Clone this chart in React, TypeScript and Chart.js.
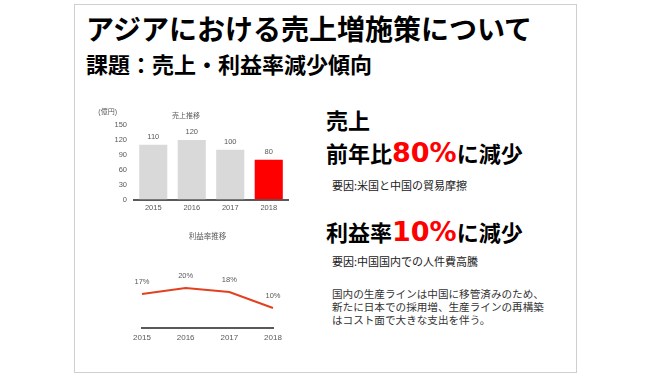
import React, { useEffect, useRef } from 'react';
import { Chart, registerables } from 'chart.js';

Chart.register(...registerables);

// ---- data ----
const years = ['2015', '2016', '2017', '2018'];
const salesValues = [110, 120, 100, 80];
const salesColors = ['#d9d9d9', '#d9d9d9', '#d9d9d9', '#ff0000'];
const salesAxisMax = 150;
const salesTickStep = 30;
const profitRates = [17, 20, 18, 10];
const profitAxisMax = 25;
const salesTitle = '売上推移';
const salesUnit = '(億円)';
const profitTitle = '利益率推移';
const noteLines = [
  '国内の生産ラインは中国に移管済みのため、',
  '新たに日本での採用増、生産ラインの再構築',
  'はコスト面で大きな支出を伴う。',
];

const chartFont = "'Liberation Sans', 'Noto Sans CJK JP', sans-serif";
const chartText = '#595959';
const axisColor = '#595959';

function valueLabelPlugin(fmt: (v: number) => string, offset: number, size: number) {
  return {
    id: 'valueLabels',
    afterDatasetsDraw(chart: any) {
      const ctx = chart.ctx;
      const meta = chart.getDatasetMeta(0);
      const data = chart.data.datasets[0].data as number[];
      ctx.save();
      ctx.font = `${size}px ${chartFont}`;
      ctx.fillStyle = chartText;
      ctx.textAlign = 'center';
      ctx.textBaseline = 'middle';
      meta.data.forEach((el: any, i: number) => {
        ctx.fillText(fmt(data[i]), el.x, el.y - offset);
      });
      ctx.restore();
    },
  };
}

const unitPlugin = {
  id: 'unitLabel',
  afterDraw(chart: any) {
    const ctx = chart.ctx;
    const area = chart.chartArea;
    ctx.save();
    ctx.font = `7px ${chartFont}`;
    ctx.fillStyle = chartText;
    ctx.textAlign = 'right';
    ctx.textBaseline = 'middle';
    ctx.fillText(salesUnit, area.left - 17, area.top - 13);
    ctx.restore();
  },
};

function SalesChart() {
  const ref = useRef<HTMLCanvasElement>(null);
  useEffect(() => {
    const chart = new Chart(ref.current as HTMLCanvasElement, {
      type: 'bar',
      data: {
        labels: years,
        datasets: [
          {
            data: salesValues,
            backgroundColor: salesColors,
            borderWidth: 0,
            barPercentage: 0.73,
            categoryPercentage: 1,
          },
        ],
      },
      options: {
        animation: false,
        responsive: false,
        maintainAspectRatio: false,
        devicePixelRatio: 1,
        layout: { padding: { left: 0, right: 22, top: 0, bottom: 0 } },
        plugins: {
          legend: { display: false },
          tooltip: { enabled: false },
          title: {
            display: true,
            text: salesTitle,
            color: chartText,
            font: { size: 7, family: chartFont, weight: 'normal' },
            padding: { top: 14, bottom: 4.6 },
          },
        },
        scales: {
          x: {
            grid: { display: false, drawTicks: false },
            border: { display: true, color: axisColor, width: 2 },
            ticks: { color: chartText, font: { size: 7.5, family: chartFont }, padding: 4 },
            afterFit: (s: any) => {
              s.height = 18.5;
            },
          },
          y: {
            min: 0,
            max: salesAxisMax,
            grid: { display: false, drawTicks: false },
            border: { display: false },
            ticks: { stepSize: salesTickStep, color: chartText, font: { size: 7.5, family: chartFont }, padding: 7 },
            afterFit: (s: any) => {
              s.width = 50;
            },
          },
        },
      } as any,
      plugins: [valueLabelPlugin((v) => String(v), 8, 7.5), unitPlugin],
    });
    return () => chart.destroy();
  }, []);
  return (
    <canvas
      ref={ref}
      width={226}
      height={120}
      style={{ position: 'absolute', left: 84, top: 98, width: 226, height: 120 }}
    />
  );
}

function ProfitChart() {
  const ref = useRef<HTMLCanvasElement>(null);
  useEffect(() => {
    const chart = new Chart(ref.current as HTMLCanvasElement, {
      type: 'line',
      data: {
        labels: years,
        datasets: [
          {
            data: profitRates,
            borderColor: '#e2401f',
            borderWidth: 2,
            pointRadius: 0,
            tension: 0,
            fill: false,
          },
        ],
      },
      options: {
        animation: false,
        responsive: false,
        maintainAspectRatio: false,
        devicePixelRatio: 1,
        layout: { padding: { left: 30, right: 31, top: 0, bottom: 0 } },
        plugins: {
          legend: { display: false },
          tooltip: { enabled: false },
          title: {
            display: true,
            text: profitTitle,
            color: chartText,
            font: { size: 7.5, family: chartFont, weight: 'normal' },
            padding: { top: 4.5, bottom: 36.5 },
          },
        },
        scales: {
          x: {
            offset: false,
            grid: { display: false, drawTicks: false },
            border: { display: true, color: axisColor, width: 2 },
            ticks: { color: chartText, font: { size: 8, family: chartFont }, padding: 5 },
            afterFit: (s: any) => {
              s.height = 20;
            },
          },
          y: {
            display: false,
            min: 0,
            max: profitAxisMax,
          },
        },
      } as any,
      plugins: [valueLabelPlugin((v) => `${v}%`, 12, 7.5)],
    });
    return () => chart.destroy();
  }, []);
  return (
    <canvas
      ref={ref}
      width={192}
      height={120}
      style={{ position: 'absolute', left: 112, top: 228, width: 192, height: 120 }}
    />
  );
}

const jp = "'Noto Sans CJK JP', sans-serif";

export default function App() {
  const abs: React.CSSProperties = { position: 'absolute', whiteSpace: 'nowrap' };
  return (
    <div
      style={{
        position: 'absolute',
        left: 0,
        top: 0,
        width: 670,
        height: 376,
        background: '#ffffff',
        overflow: 'hidden',
        fontFamily: jp,
      }}
    >
      <div
        style={{
          position: 'absolute',
          left: 74,
          top: 4,
          width: 503,
          height: 369,
          border: '1px solid #cfcfcf',
          boxSizing: 'border-box',
        }}
      />
      <div style={{ ...abs, left: 86, top: 14, fontSize: 28, lineHeight: '28px', fontWeight: 700, color: '#000' }}>
        アジアにおける売上増施策について
      </div>
      <div style={{ ...abs, left: 86, top: 52, fontSize: 22, lineHeight: '22px', fontWeight: 700, color: '#000' }}>
        課題：売上・利益率減少傾向
      </div>

      <SalesChart />
      <ProfitChart />

      <div style={{ ...abs, left: 326, top: 108, fontSize: 22, lineHeight: '22px', fontWeight: 700, color: '#000' }}>
        売上
      </div>
      <div style={{ ...abs, left: 326, top: 138, fontSize: 22, lineHeight: '28px', fontWeight: 700, color: '#000' }}>
        前年比
        <span style={{ fontFamily: "'DejaVu Sans', sans-serif", fontSize: 27, lineHeight: 0, color: '#ff0000' }}>
          80%
        </span>
        に減少
      </div>
      <div style={{ ...abs, left: 332, top: 178, fontSize: 11, lineHeight: '14px', color: '#222' }}>
        要因:米国と中国の貿易摩擦
      </div>
      <div style={{ ...abs, left: 326, top: 217, fontSize: 22, lineHeight: '28px', fontWeight: 700, color: '#000' }}>
        利益率
        <span style={{ fontFamily: "'DejaVu Sans', sans-serif", fontSize: 27, lineHeight: 0, color: '#ff0000' }}>
          10%
        </span>
        に減少
      </div>
      <div style={{ ...abs, left: 332, top: 254, fontSize: 11, lineHeight: '14px', color: '#222' }}>
        要因:中国国内での人件費高騰
      </div>
      {noteLines.map((line, i) => (
        <div
          key={i}
          style={{
            ...abs,
            left: 332,
            top: 287 + i * 13.2,
            height: 13,
            fontSize: 10.6,
            lineHeight: '13px',
            color: '#333',
          }}
        >
          {line}
        </div>
      ))}
    </div>
  );
}
